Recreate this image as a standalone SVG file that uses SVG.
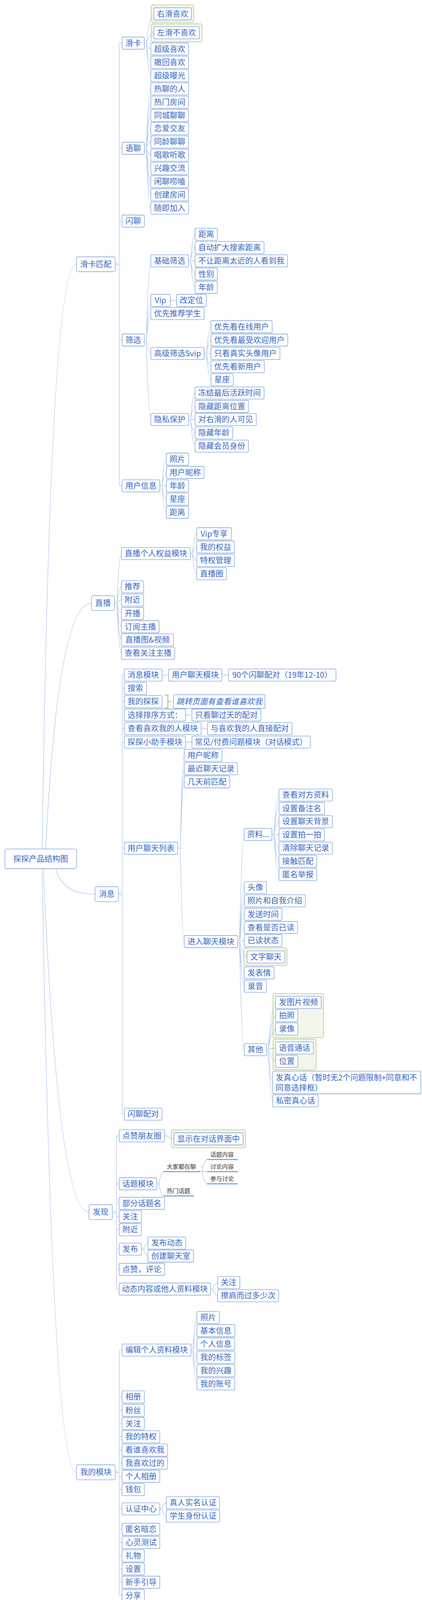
<svg xmlns="http://www.w3.org/2000/svg" width="1080" height="4112" viewBox="0 0 1080 4112">
<style>
.b{fill:#fff;stroke:#7c9dd8;stroke-width:1.3}
.t{font-family:"Noto Sans CJK SC","Noto Sans",sans-serif;font-size:20px;fill:#3568c4;text-anchor:middle}
.ts{font-family:"Noto Sans CJK SC","Noto Sans",sans-serif;font-size:20px;fill:#3568c4}
.c{fill:none;stroke:#a9c2ea;stroke-width:1.2}
.d{fill:#fff;stroke:#a9c2ea;stroke-width:1}
.bd{fill:#f3f6ea;stroke:#8fab4a;stroke-width:1.8;stroke-dasharray:2 2}
.u{font-family:"Noto Sans CJK SC","Noto Sans",sans-serif;font-size:15px;fill:#333}
.ul{stroke:#5d8fd8;stroke-width:2.2;fill:none}
.br{fill:none;stroke:#b3d17c;stroke-width:2.5}
</style>
<rect width="1080" height="4112" fill="#fff"/>
<g id="boundaries">
<rect class="bd" x="387" y="12.7" width="109" height="44.6" rx="5"/>
<rect class="bd" x="387" y="61" width="130" height="46" rx="5"/>
<rect class="bd" x="624.2" y="2426.7" width="110.3" height="45" rx="5"/>
<rect class="bd" x="698.5" y="2543.3" width="129.5" height="113.4" rx="5"/>
<rect class="bd" x="698.5" y="2660" width="110.3" height="79" rx="5"/>
<rect class="bd" x="438.4" y="2892.3" width="189.8" height="46" rx="5"/>
</g>
<g id="connectors">
<path class="c" d="M108 2173.3Q128 676.5 195.7 676.5M117 2173.3Q148 1544.2 234 1544.2M143 2224Q158 2289.2 243.2 2289.2M111 2224Q148 3103.3 227.6 3103.3M108 2224Q133 3769.2 195.7 3769.2"/>
<path class="c" d="M295 676.5H305M305 110.5V1243.8M305 110.5H312.4M305 379.5H312.4M305 566H312.4M305 870.5H312.4M305 1243.8H312.4"/>
<path class="c" d="M369.4 110.5H374.4M374.4 110.5Q384 35.5 393.7 35.5M374.4 110.5Q384 83.8 393.7 83.8M374.4 110.5Q380.2 125.5 386 125.5M374.4 110.5Q380.2 159.7 386 159.7M374.4 110.5Q380.2 193.8 386 193.8"/>
<path class="c" d="M369.4 379.5H374.4M374.4 379.5Q380.2 227.7 386 227.7M374.4 379.5Q380.2 261.6 386 261.6M374.4 379.5Q380.2 295.5 386 295.5M374.4 379.5Q380.2 329.4 386 329.4M374.4 379.5Q380.2 363.3 386 363.3M374.4 379.5Q380.2 397.2 386 397.2M374.4 379.5Q380.2 431.1 386 431.1M374.4 379.5Q380.2 465 386 465M374.4 379.5Q380.2 498.9 386 498.9M374.4 379.5Q380.2 532.8 386 532.8"/>
<path class="c" d="M369.4 870.5H374.4M374.4 870.5Q380.2 667.8 386 667.8M374.4 870.5Q380.2 769 386 769M374.4 870.5Q380.2 802.8 386 802.8M374.4 870.5Q380.2 904.8 386 904.8M374.4 870.5Q380.2 1073.8 386 1073.8"/>
<path class="c" d="M482.5 667.8H487.5M487.5 667.8Q493.4 599.8 499.3 599.8M487.5 667.8Q493.4 633.8 499.3 633.8M487.5 667.8H499.3M487.5 667.8Q493.4 701.5 499.3 701.5M487.5 667.8Q493.4 735.5 499.3 735.5"/>
<path class="c" d="M435.5 769H451.7"/>
<path class="c" d="M522.5 904.8H528.3M528.3 904.8Q534.2 836.5 540 836.5M528.3 904.8Q534.2 870.5 540 870.5M528.3 904.8H540M528.3 904.8Q534.2 938.8 540 938.8M528.3 904.8Q534.2 972.2 540 972.2"/>
<path class="c" d="M482.5 1073.8H487.5M487.5 1073.8Q493.4 1006.2 499.3 1006.2M487.5 1073.8Q493.4 1040.5 499.3 1040.5M487.5 1073.8H499.3M487.5 1073.8Q493.4 1108.2 499.3 1108.2M487.5 1073.8Q493.4 1142.2 499.3 1142.2"/>
<path class="c" d="M408.9 1243.8H414M414 1243.8Q419.8 1175.5 425.6 1175.5M414 1243.8Q419.8 1209.5 425.6 1209.5M414 1243.8H425.6M414 1243.8Q419.8 1277.8 425.6 1277.8M414 1243.8Q419.8 1311.5 425.6 1311.5"/>
<path class="c" d="M293.2 1544.2H299M299 1544.2Q304.8 1417.2 310.6 1417.2M299 1544.2Q304.8 1502.2 310.6 1502.2M299 1544.2Q304.8 1536.2 310.6 1536.2M299 1544.2Q304.8 1570.5 310.6 1570.5M299 1544.2Q304.8 1604.5 310.6 1604.5M299 1544.2Q304.8 1638.2 310.6 1638.2M299 1544.2Q304.8 1672.2 310.6 1672.2"/>
<path class="c" d="M487.1 1417.2H492M492 1417.2Q497.7 1366.5 503.4 1366.5M492 1417.2Q497.7 1400.5 503.4 1400.5M492 1417.2Q497.7 1434.8 503.4 1434.8M492 1417.2Q497.7 1468.8 503.4 1468.8"/>
<path class="c" d="M303.2 2289.2H312.5M312.5 1728.2V2852.2M312.5 1728.2H318.2M312.5 1762.2H318.2M312.5 1796.2H318.2M312.5 1830.5H318.2M312.5 1865.2H318.2M312.5 1899.8H318.2M312.5 2171.5H318.2M312.5 2852.2H318.2"/>
<path class="c" d="M414.7 1728.2H431.4M567.9 1728.2H584.7M474.7 1830.5H491.2M514.7 1865.2H530.7M474.7 1899.8H491.2"/>
<path class="br" d="M421 1779.5H429.7V1812.8H421M429.7 1796.2H438.5"/>
<path class="c" d="M454.7 2171.5H461.3M461.3 2171.5Q466.4 1933.8 471.5 1933.8M461.3 2171.5Q466.4 1967.8 471.5 1967.8M461.3 2171.5Q466.4 2001.5 471.5 2001.5M461.3 2171.5Q466.4 2410.5 471.5 2410.5"/>
<path class="c" d="M608 2410.5H612.8M612.8 2410.5Q618.9 2136.2 625 2136.2M612.8 2410.5Q618.9 2272.2 625 2272.2M612.8 2410.5Q618.9 2306.2 625 2306.2M612.8 2410.5Q618.9 2340.5 625 2340.5M612.8 2410.5Q618.9 2374.5 625 2374.5M612.8 2410.5Q618.9 2408.2 625 2408.2M612.8 2410.5Q622.5 2449.8 632.3 2449.8M612.8 2410.5Q618.9 2490.5 625 2490.5M612.8 2410.5Q618.9 2524.8 625 2524.8M612.8 2410.5Q618.9 2687.2 625 2687.2"/>
<path class="c" d="M696 2136.2H701M701 2136.2Q707.5 2035.3 714 2035.3M701 2136.2Q707.5 2069.5 714 2069.5M701 2136.2Q707.5 2103.3 714 2103.3M701 2136.2Q707.5 2137.2 714 2137.2M701 2136.2Q707.5 2171.2 714 2171.2M701 2136.2Q707.5 2204.8 714 2204.8M701 2136.2Q707.5 2238.8 714 2238.8"/>
<path class="c" d="M682 2687.2H686.5M686.5 2687.2Q696 2566 705.4 2566M686.5 2687.2Q696 2600.2 705.4 2600.2M686.5 2687.2Q696 2634.2 705.4 2634.2M686.5 2687.2Q696 2682.8 705.4 2682.8M686.5 2687.2Q696 2716.8 705.4 2716.8M686.5 2687.2Q692.2 2771.2 697.9 2771.2M686.5 2687.2Q692.2 2818.2 697.9 2818.2"/>
<path class="c" d="M287.4 3103.3H298M298 2907.8V3300M298 2907.8H304.8M298 3030.5H304.8M298 3080.5H304.8M298 3114.2H304.8M298 3148.2H304.8M298 3197.8H304.8M298 3249.5H304.8M298 3300H304.8"/>
<path class="c" d="M421.3 2907.8H426.2Q435.7 2915.2 445.3 2915.2"/>
<path class="c" d="M401.3 3030.5H406.4M406.4 3030.5Q412.2 2999.3 418 2999.3M406.4 3030.5Q412.2 3061.7 418 3061.7"/>
<path class="c" d="M512 2999.3H517M517 2999.3Q523.5 2968.3 530 2968.3M517 2999.3H530M517 2999.3Q523.5 3030.7 530 3030.7"/>
<path class="c" d="M361.8 3197.8H367M367 3197.8Q372.8 3182.2 378.6 3182.2M367 3197.8Q372.8 3215.5 378.6 3215.5"/>
<path class="c" d="M538.8 3300H544.6M544.6 3300Q550.7 3283.2 556.8 3283.2M544.6 3300Q550.7 3317.2 556.8 3317.2"/>
<path class="c" d="M295 3769.2H305M305 3456.2V4084.5M305 3456.2H312.4M305 3576.2H312.4M305 3610.5H312.4M305 3644.5H312.4M305 3678.2H312.4M305 3712.2H312.4M305 3745.5H312.4M305 3779.5H312.4M305 3813.3H312.4M305 3862.8H312.4M305 3915H312.4M305 3948.8H312.4M305 3982.8H312.4M305 4016.5H312.4M305 4050.5H312.4M305 4084.5H312.4"/>
<path class="c" d="M488.9 3456.2H493.5M493.5 3456.2Q498.8 3372.8 504 3372.8M493.5 3456.2Q498.8 3406.5 504 3406.5M493.5 3456.2Q498.8 3440.5 504 3440.5M493.5 3456.2Q498.8 3474.8 504 3474.8M493.5 3456.2Q498.8 3508.8 504 3508.8M493.5 3456.2Q498.8 3542.5 504 3542.5"/>
<path class="c" d="M408.9 3862.8H414M414 3862.8Q419.8 3847.2 425.6 3847.2M414 3862.8Q419.8 3881.2 425.6 3881.2"/>
<path class="ul" d="M418 2999.3H512M418 3061.7H496.4M530 2968.3H608.5M530 2999.3H608.5M530 3030.7H608.5"/>
<circle class="d" cx="300" cy="676.5" r="2.6"/>
<circle class="d" cx="374.4" cy="110.5" r="2.6"/>
<circle class="d" cx="374.4" cy="379.5" r="2.6"/>
<circle class="d" cx="374.4" cy="870.5" r="2.6"/>
<circle class="d" cx="487.5" cy="667.8" r="2.6"/>
<circle class="d" cx="440.7" cy="769" r="2.6"/>
<circle class="d" cx="528.3" cy="904.8" r="2.6"/>
<circle class="d" cx="487.5" cy="1073.8" r="2.6"/>
<circle class="d" cx="414" cy="1243.8" r="2.6"/>
<circle class="d" cx="299" cy="1544.2" r="2.6"/>
<circle class="d" cx="492" cy="1417.2" r="2.6"/>
<circle class="d" cx="308.5" cy="2289.2" r="2.6"/>
<circle class="d" cx="419.8" cy="1728.2" r="2.6"/>
<circle class="d" cx="573" cy="1728.2" r="2.6"/>
<circle class="d" cx="479.6" cy="1830.5" r="2.6"/>
<circle class="d" cx="519.5" cy="1865.2" r="2.6"/>
<circle class="d" cx="479.6" cy="1899.8" r="2.6"/>
<circle class="d" cx="461.3" cy="2171.5" r="2.6"/>
<circle class="d" cx="612.8" cy="2410.5" r="2.6"/>
<circle class="d" cx="701" cy="2136.2" r="2.6"/>
<circle class="d" cx="686.5" cy="2687.2" r="2.6"/>
<circle class="d" cx="293.2" cy="3103.3" r="2.6"/>
<circle class="d" cx="426.2" cy="2907.8" r="2.6"/>
<circle class="d" cx="406.4" cy="3030.5" r="2.6"/>
<circle class="d" cx="517" cy="2987" r="2.6"/>
<circle class="d" cx="367" cy="3197.8" r="2.6"/>
<circle class="d" cx="544.6" cy="3300" r="2.6"/>
<circle class="d" cx="300.2" cy="3769.2" r="2.6"/>
<circle class="d" cx="493.5" cy="3456.2" r="2.6"/>
<circle class="d" cx="414" cy="3862.8" r="2.6"/>
</g>
<g id="root"><rect class="b" x="12.5" y="2173.3" width="183.3" height="50.7" rx="5"/><text class="t" x="104.1" y="2205.7">探探产品结构图</text></g>
<g id="n-huakapipei"><rect class="b" x="195.7" y="657.5" width="99.3" height="38" rx="4"/><text class="t" x="245.3" y="683.5">滑卡匹配</text></g>
<g id="n-zhibo"><rect class="b" x="234" y="1525" width="59.2" height="38.3" rx="4"/><text class="t" x="263.6" y="1551.2">直播</text></g>
<g id="n-xiaoxi"><rect class="b" x="243.2" y="2270" width="60" height="38.3" rx="4"/><text class="t" x="273.2" y="2296.2">消息</text></g>
<g id="n-faxian"><rect class="b" x="227.6" y="3084" width="59.8" height="38.3" rx="4"/><text class="t" x="257.5" y="3110.2">发现</text></g>
<g id="n-wode"><rect class="b" x="195.7" y="3750" width="99.3" height="38.3" rx="4"/><text class="t" x="245.3" y="3776.2">我的模块</text></g>

<g id="n-huaka"><rect class="b" x="312.4" y="95" width="57" height="31" rx="3"/><text class="t" x="340.9" y="117.5">滑卡</text></g>
<g id="n-yuliao"><rect class="b" x="312.4" y="364" width="57" height="31" rx="3"/><text class="t" x="340.9" y="386.5">语聊</text></g>
<g id="n-shanliao"><rect class="b" x="312.4" y="550.5" width="57" height="31" rx="3"/><text class="t" x="340.9" y="573">闪聊</text></g>
<g id="n-shaixuan"><rect class="b" x="312.4" y="855" width="57" height="31" rx="3"/><text class="t" x="340.9" y="877.5">筛选</text></g>
<g id="n-yonghuxinxi"><rect class="b" x="312.4" y="1228.3" width="96.5" height="31" rx="3"/><text class="t" x="360.7" y="1250.8">用户信息</text></g>

<g id="n-youhua"><rect class="b" x="393.7" y="20" width="96" height="31" rx="3"/><text class="t" x="441.7" y="42.5">右滑喜欢</text></g>
<g id="n-zuohua"><rect class="b" x="393.7" y="68.3" width="116" height="31" rx="3"/><text class="t" x="451.7" y="90.8">左滑不喜欢</text></g>
<g id="n-chaojixihuan"><rect class="b" x="386" y="110" width="96.5" height="31" rx="3"/><text class="t" x="434.3" y="132.5">超级喜欢</text></g>
<g id="n-chehui"><rect class="b" x="386" y="144.2" width="96.5" height="31" rx="3"/><text class="t" x="434.3" y="166.7">撤回喜欢</text></g>
<g id="n-baoguang"><rect class="b" x="386" y="178.3" width="96.5" height="31" rx="3"/><text class="t" x="434.3" y="200.8">超级曝光</text></g>

<g id="n-yl1"><rect class="b" x="386" y="212.2" width="96.5" height="31" rx="3"/><text class="t" x="434.3" y="234.7">热聊的人</text></g>
<g id="n-yl2"><rect class="b" x="386" y="246.1" width="96.5" height="31" rx="3"/><text class="t" x="434.3" y="268.6">热门房间</text></g>
<g id="n-yl3"><rect class="b" x="386" y="280" width="96.5" height="31" rx="3"/><text class="t" x="434.3" y="302.5">同城聊聊</text></g>
<g id="n-yl4"><rect class="b" x="386" y="313.9" width="96.5" height="31" rx="3"/><text class="t" x="434.3" y="336.4">恋爱交友</text></g>
<g id="n-yl5"><rect class="b" x="386" y="347.8" width="96.5" height="31" rx="3"/><text class="t" x="434.3" y="370.3">同龄聊聊</text></g>
<g id="n-yl6"><rect class="b" x="386" y="381.7" width="96.5" height="31" rx="3"/><text class="t" x="434.3" y="404.2">唱歌听歌</text></g>
<g id="n-yl7"><rect class="b" x="386" y="415.6" width="96.5" height="31" rx="3"/><text class="t" x="434.3" y="438.1">兴趣交流</text></g>
<g id="n-yl8"><rect class="b" x="386" y="449.5" width="96.5" height="31" rx="3"/><text class="t" x="434.3" y="472">闲聊唠嗑</text></g>
<g id="n-yl9"><rect class="b" x="386" y="483.4" width="96.5" height="31" rx="3"/><text class="t" x="434.3" y="505.9">创建房间</text></g>
<g id="n-yl10"><rect class="b" x="386" y="517.3" width="96.5" height="31" rx="3"/><text class="t" x="434.3" y="539.8">随即加入</text></g>

<g id="n-jichu"><rect class="b" x="386" y="652.3" width="96.5" height="31" rx="3"/><text class="t" x="434.3" y="674.8">基础筛选</text></g>
<g id="n-vip"><rect class="b" x="386" y="753.5" width="49.5" height="31" rx="3"/><text class="t" x="410.8" y="776">Vip</text></g>
<g id="n-gaidingwei"><rect class="b" x="451.7" y="753.5" width="76.5" height="31" rx="3"/><text class="t" x="490" y="776">改定位</text></g>
<g id="n-xuesheng"><rect class="b" x="386" y="787.3" width="136.5" height="31" rx="3"/><text class="t" x="454.3" y="809.8">优先推荐学生</text></g>
<g id="n-svip"><rect class="b" x="386" y="889.3" width="136.5" height="31" rx="3"/><text class="t" x="454.3" y="911.8">高级筛选Svip</text></g>
<g id="n-yinsi"><rect class="b" x="386" y="1058.3" width="96.5" height="31" rx="3"/><text class="t" x="434.3" y="1080.8">隐私保护</text></g>

<g id="n-jc1"><rect class="b" x="499.3" y="584.3" width="57" height="31" rx="3"/><text class="t" x="527.8" y="606.8">距离</text></g>
<g id="n-jc2"><rect class="b" x="499.3" y="618.3" width="176.5" height="31" rx="3"/><text class="t" x="587.6" y="640.8">自动扩大搜索距离</text></g>
<g id="n-jc3"><rect class="b" x="499.3" y="652.3" width="236.5" height="31" rx="3"/><text class="t" x="617.6" y="674.8">不让距离太近的人看到我</text></g>
<g id="n-jc4"><rect class="b" x="499.3" y="686" width="57" height="31" rx="3"/><text class="t" x="527.8" y="708.5">性别</text></g>
<g id="n-jc5"><rect class="b" x="499.3" y="720" width="57" height="31" rx="3"/><text class="t" x="527.8" y="742.5">年龄</text></g>

<g id="n-sv1"><rect class="b" x="540" y="821" width="156.5" height="31" rx="3"/><text class="t" x="618.3" y="843.5">优先看在线用户</text></g>
<g id="n-sv2"><rect class="b" x="540" y="855" width="196.5" height="31" rx="3"/><text class="t" x="638.3" y="877.5">优先看最受欢迎用户</text></g>
<g id="n-sv3"><rect class="b" x="540" y="889.3" width="176.5" height="31" rx="3"/><text class="t" x="628.3" y="911.8">只看真实头像用户</text></g>
<g id="n-sv4"><rect class="b" x="540" y="923.3" width="136.5" height="31" rx="3"/><text class="t" x="608.3" y="945.8">优先看新用户</text></g>
<g id="n-sv5"><rect class="b" x="540" y="956.7" width="57" height="31" rx="3"/><text class="t" x="568.5" y="979.2">星座</text></g>

<g id="n-ys1"><rect class="b" x="499.3" y="990.7" width="176.5" height="31" rx="3"/><text class="t" x="587.6" y="1013.2">冻结最后活跃时间</text></g>
<g id="n-ys2"><rect class="b" x="499.3" y="1025" width="136.5" height="31" rx="3"/><text class="t" x="567.6" y="1047.5">隐藏距离位置</text></g>
<g id="n-ys3"><rect class="b" x="499.3" y="1058.3" width="156.5" height="31" rx="3"/><text class="t" x="577.6" y="1080.8">对右滑的人可见</text></g>
<g id="n-ys4"><rect class="b" x="499.3" y="1092.7" width="96.5" height="31" rx="3"/><text class="t" x="547.6" y="1115.2">隐藏年龄</text></g>
<g id="n-ys5"><rect class="b" x="499.3" y="1126.7" width="136.5" height="31" rx="3"/><text class="t" x="567.6" y="1149.2">隐藏会员身份</text></g>

<g id="n-ux1"><rect class="b" x="425.6" y="1160" width="57" height="31" rx="3"/><text class="t" x="454.1" y="1182.5">照片</text></g>
<g id="n-ux2"><rect class="b" x="425.6" y="1194" width="96.5" height="31" rx="3"/><text class="t" x="473.9" y="1216.5">用户昵称</text></g>
<g id="n-ux3"><rect class="b" x="425.6" y="1228.3" width="57" height="31" rx="3"/><text class="t" x="454.1" y="1250.8">年龄</text></g>
<g id="n-ux4"><rect class="b" x="425.6" y="1262.3" width="57" height="31" rx="3"/><text class="t" x="454.1" y="1284.8">星座</text></g>
<g id="n-ux5"><rect class="b" x="425.6" y="1296" width="57" height="31" rx="3"/><text class="t" x="454.1" y="1318.5">距离</text></g>

<g id="n-zb-quanyi"><rect class="b" x="310.6" y="1401.7" width="176.5" height="31" rx="3"/><text class="t" x="398.9" y="1424.2">直播个人权益模块</text></g>
<g id="n-zb1"><rect class="b" x="310.6" y="1486.7" width="57" height="31" rx="3"/><text class="t" x="339.1" y="1509.2">推荐</text></g>
<g id="n-zb2"><rect class="b" x="310.6" y="1520.7" width="57" height="31" rx="3"/><text class="t" x="339.1" y="1543.2">附近</text></g>
<g id="n-zb3"><rect class="b" x="310.6" y="1555" width="57" height="31" rx="3"/><text class="t" x="339.1" y="1577.5">开播</text></g>
<g id="n-zb4"><rect class="b" x="310.6" y="1589" width="96.5" height="31" rx="3"/><text class="t" x="358.9" y="1611.5">订阅主播</text></g>
<g id="n-zb5"><rect class="b" x="310.6" y="1622.7" width="133.6" height="31" rx="3"/><text class="t" x="377.4" y="1645.2">直播图&amp;视频</text></g>
<g id="n-zb6"><rect class="b" x="310.6" y="1656.7" width="136.5" height="31" rx="3"/><text class="t" x="378.9" y="1679.2">查看关注主播</text></g>
<g id="n-qy1"><rect class="b" x="503.4" y="1351" width="89" height="31" rx="3"/><text class="t" x="547.9" y="1373.5">Vip专享</text></g>
<g id="n-qy2"><rect class="b" x="503.4" y="1385" width="96.5" height="31" rx="3"/><text class="t" x="551.7" y="1407.5">我的权益</text></g>
<g id="n-qy3"><rect class="b" x="503.4" y="1419.3" width="96.5" height="31" rx="3"/><text class="t" x="551.7" y="1441.8">特权管理</text></g>
<g id="n-qy4"><rect class="b" x="503.4" y="1453.3" width="76.5" height="31" rx="3"/><text class="t" x="541.7" y="1475.8">直播圈</text></g>

<g id="n-xx1"><rect class="b" x="318.2" y="1712.7" width="96.5" height="31" rx="3"/><text class="t" x="366.5" y="1735.2">消息模块</text></g>
<g id="n-xx1a"><rect class="b" x="431.4" y="1712.7" width="136.5" height="31" rx="3"/><text class="t" x="499.7" y="1735.2">用户聊天模块</text></g>
<g id="n-xx1b"><rect class="b" x="584.7" y="1712.7" width="275.2" height="31" rx="3"/><text class="t" x="722.3" y="1735.2">90个闪聊配对（19年12-10）</text></g>
<g id="n-xx2"><rect class="b" x="318.2" y="1746.7" width="57" height="31" rx="3"/><text class="t" x="346.7" y="1769.2">搜索</text></g>
<g id="n-xx3"><rect class="b" x="318.2" y="1780.7" width="96.5" height="31" rx="3"/><text class="t" x="366.5" y="1803.2">我的探探</text></g>
<g id="n-xx3a"><rect class="b" x="444.2" y="1778.5" width="234" height="35" rx="3"/><text class="t" x="561.2" y="1803.2" font-style="italic">跳转页面有查看谁喜欢我</text></g>
<g id="n-xx4"><rect class="b" x="318.2" y="1815" width="156.5" height="31" rx="3"/><text class="t" x="396.5" y="1837.5">选择排序方式：</text></g>
<g id="n-xx4a"><rect class="b" x="491.2" y="1815" width="176.5" height="31" rx="3"/><text class="t" x="579.5" y="1837.5">只看聊过天的配对</text></g>
<g id="n-xx5"><rect class="b" x="318.2" y="1849.7" width="196.5" height="31" rx="3"/><text class="t" x="416.5" y="1872.2">查看喜欢我的人模块</text></g>
<g id="n-xx5a"><rect class="b" x="530.7" y="1849.7" width="216.5" height="31" rx="3"/><text class="t" x="639" y="1872.2">与喜欢我的人直接配对</text></g>
<g id="n-xx6"><rect class="b" x="318.2" y="1884.3" width="156.5" height="31" rx="3"/><text class="t" x="396.5" y="1906.8">探探小助手模块</text></g>
<g id="n-xx6a"><rect class="b" x="491.2" y="1884.3" width="303" height="31" rx="3"/><text class="t" x="642.7" y="1906.8">常见/付费问题模块（对话模式）</text></g>
<g id="n-xx7"><rect class="b" x="318.2" y="2156" width="136.5" height="31" rx="3"/><text class="t" x="386.5" y="2178.5">用户聊天列表</text></g>
<g id="n-xx8"><rect class="b" x="318.2" y="2836.7" width="96.5" height="31" rx="3"/><text class="t" x="366.5" y="2859.2">闪聊配对</text></g>

<g id="n-lb1"><rect class="b" x="471.5" y="1918.3" width="96.5" height="31" rx="3"/><text class="t" x="519.8" y="1940.8">用户昵称</text></g>
<g id="n-lb2"><rect class="b" x="471.5" y="1952.3" width="136.5" height="31" rx="3"/><text class="t" x="539.8" y="1974.8">最近聊天记录</text></g>
<g id="n-lb3"><rect class="b" x="471.5" y="1986" width="116.5" height="31" rx="3"/><text class="t" x="529.8" y="2008.5">几天前匹配</text></g>
<g id="n-lb4"><rect class="b" x="471.5" y="2395" width="136.5" height="31" rx="3"/><text class="t" x="539.8" y="2417.5">进入聊天模块</text></g>

<g id="n-jr1"><rect class="b" x="625" y="2120.7" width="71" height="31" rx="3"/><text class="t" x="660.5" y="2143.2">资料...</text></g>
<g id="n-jr2"><rect class="b" x="625" y="2256.7" width="57" height="31" rx="3"/><text class="t" x="653.5" y="2279.2">头像</text></g>
<g id="n-jr3"><rect class="b" x="625" y="2290.7" width="156.5" height="31" rx="3"/><text class="t" x="703.3" y="2313.2">照片和自我介绍</text></g>
<g id="n-jr4"><rect class="b" x="625" y="2325" width="96.5" height="31" rx="3"/><text class="t" x="673.3" y="2347.5">发送时间</text></g>
<g id="n-jr5"><rect class="b" x="625" y="2359" width="136.5" height="31" rx="3"/><text class="t" x="693.3" y="2381.5">查看是否已读</text></g>
<g id="n-jr6"><rect class="b" x="625" y="2392.7" width="96.5" height="31" rx="3"/><text class="t" x="673.3" y="2415.2">已读状态</text></g>
<g id="n-jr7"><rect class="b" x="632.3" y="2434.3" width="96.5" height="31" rx="3"/><text class="t" x="680.6" y="2456.8">文字聊天</text></g>
<g id="n-jr8"><rect class="b" x="625" y="2475" width="76.5" height="31" rx="3"/><text class="t" x="663.3" y="2497.5">发表情</text></g>
<g id="n-jr9"><rect class="b" x="625" y="2509.3" width="57" height="31" rx="3"/><text class="t" x="653.5" y="2531.8">录音</text></g>
<g id="n-jr10"><rect class="b" x="625" y="2671.7" width="57" height="31" rx="3"/><text class="t" x="653.5" y="2694.2">其他</text></g>

<g id="n-zl1"><rect class="b" x="714" y="2019.8" width="136.5" height="31" rx="3"/><text class="t" x="782.3" y="2042.3">查看对方资料</text></g>
<g id="n-zl2"><rect class="b" x="714" y="2054" width="116.5" height="31" rx="3"/><text class="t" x="772.3" y="2076.5">设置备注名</text></g>
<g id="n-zl3"><rect class="b" x="714" y="2087.8" width="136.5" height="31" rx="3"/><text class="t" x="782.3" y="2110.3">设置聊天背景</text></g>
<g id="n-zl4"><rect class="b" x="714" y="2121.7" width="116.5" height="31" rx="3"/><text class="t" x="772.3" y="2144.2">设置拍一拍</text></g>
<g id="n-zl5"><rect class="b" x="714" y="2155.7" width="136.5" height="31" rx="3"/><text class="t" x="782.3" y="2178.2">清除聊天记录</text></g>
<g id="n-zl6"><rect class="b" x="714" y="2189.3" width="96.5" height="31" rx="3"/><text class="t" x="762.3" y="2211.8">接触匹配</text></g>
<g id="n-zl7"><rect class="b" x="714" y="2223.3" width="96.5" height="31" rx="3"/><text class="t" x="762.3" y="2245.8">匿名举报</text></g>

<g id="n-qt1"><rect class="b" x="705.4" y="2550.7" width="116.5" height="31" rx="3"/><text class="t" x="763.7" y="2573.2">发图片视频</text></g>
<g id="n-qt2"><rect class="b" x="705.4" y="2584.7" width="57" height="31" rx="3"/><text class="t" x="733.9" y="2607.2">拍照</text></g>
<g id="n-qt3"><rect class="b" x="705.4" y="2618.7" width="57" height="31" rx="3"/><text class="t" x="733.9" y="2641.2">录像</text></g>
<g id="n-qt4"><rect class="b" x="705.4" y="2667.3" width="96.5" height="31" rx="3"/><text class="t" x="753.7" y="2689.8">语音通话</text></g>
<g id="n-qt5"><rect class="b" x="705.4" y="2701.3" width="57" height="31" rx="3"/><text class="t" x="733.9" y="2723.8">位置</text></g>
<g id="n-qt6"><rect class="b" x="697.9" y="2742.3" width="379" height="57.7" rx="3"/><text class="ts" x="705.5" y="2766">发真心话（暂时无2个问题限制+同意和不</text><text class="ts" x="705.5" y="2792">同意选择框）</text></g>
<g id="n-qt7"><rect class="b" x="697.9" y="2802.7" width="116.5" height="31" rx="3"/><text class="t" x="756.2" y="2825.2">私密真心话</text></g>

<g id="n-fx1"><rect class="b" x="304.8" y="2892.3" width="116.5" height="31" rx="3"/><text class="t" x="363.1" y="2914.8">点赞朋友圈</text></g>
<g id="n-fx1a"><rect class="b" x="445.3" y="2900" width="176.5" height="31" rx="3"/><text class="t" x="533.6" y="2922.5">显示在对话界面中</text></g>
<g id="n-fx2"><rect class="b" x="304.8" y="3015" width="96.5" height="31" rx="3"/><text class="t" x="353.1" y="3037.5">话题模块</text></g>
<g id="n-ht1"><text class="u" x="426.8" y="2992">大家都在聊</text></g>
<g id="n-ht1a"><text class="u" x="538.2" y="2961">话题内容</text></g>
<g id="n-ht1b"><text class="u" x="538.2" y="2992">讨论内容</text></g>
<g id="n-ht1c"><text class="u" x="538.2" y="3023">参与讨论</text></g>
<g id="n-ht2"><text class="u" x="426.8" y="3054">热门话题</text></g>
<g id="n-fx3"><rect class="b" x="304.8" y="3065" width="116.5" height="31" rx="3"/><text class="t" x="363.1" y="3087.5">部分话题名</text></g>
<g id="n-fx4"><rect class="b" x="304.8" y="3099" width="57" height="31" rx="3"/><text class="t" x="333.3" y="3121.5">关注</text></g>
<g id="n-fx5"><rect class="b" x="304.8" y="3132.7" width="57" height="31" rx="3"/><text class="t" x="333.3" y="3155.2">附近</text></g>
<g id="n-fx6"><rect class="b" x="304.8" y="3182.3" width="57" height="31" rx="3"/><text class="t" x="333.3" y="3204.8">发布</text></g>
<g id="n-fx6a"><rect class="b" x="378.6" y="3166.7" width="96.5" height="31" rx="3"/><text class="t" x="426.9" y="3189.2">发布动态</text></g>
<g id="n-fx6b"><rect class="b" x="378.6" y="3200" width="116.5" height="31" rx="3"/><text class="t" x="436.9" y="3222.5">创建聊天室</text></g>
<g id="n-fx7"><rect class="b" x="304.8" y="3234" width="116.5" height="31" rx="3"/><text class="t" x="363.1" y="3256.5">点赞，评论</text></g>
<g id="n-fx8"><rect class="b" x="304.8" y="3284.5" width="234" height="31" rx="3"/><text class="t" x="421.8" y="3307">动态内容或他人资料模块</text></g>
<g id="n-fx8a"><rect class="b" x="556.8" y="3267.7" width="57" height="31" rx="3"/><text class="t" x="585.3" y="3290.2">关注</text></g>
<g id="n-fx8b"><rect class="b" x="556.8" y="3301.7" width="156.5" height="31" rx="3"/><text class="t" x="635.1" y="3324.2">擦肩而过多少次</text></g>

<g id="n-wd1"><rect class="b" x="312.4" y="3440.7" width="176.5" height="31" rx="3"/><text class="t" x="400.7" y="3463.2">编辑个人资料模块</text></g>
<g id="n-bj1"><rect class="b" x="504" y="3357.3" width="57.5" height="31" rx="3"/><text class="t" x="532.8" y="3379.8">照片</text></g>
<g id="n-bj2"><rect class="b" x="504" y="3391" width="97" height="31" rx="3"/><text class="t" x="552.5" y="3413.5">基本信息</text></g>
<g id="n-bj3"><rect class="b" x="504" y="3425" width="97" height="31" rx="3"/><text class="t" x="552.5" y="3447.5">个人信息</text></g>
<g id="n-bj4"><rect class="b" x="504" y="3459.3" width="97" height="31" rx="3"/><text class="t" x="552.5" y="3481.8">我的标签</text></g>
<g id="n-bj5"><rect class="b" x="504" y="3493.3" width="97" height="31" rx="3"/><text class="t" x="552.5" y="3515.8">我的兴趣</text></g>
<g id="n-bj6"><rect class="b" x="504" y="3527.3" width="97" height="31" rx="3"/><text class="t" x="552.5" y="3549.8">我的账号</text></g>
<g id="n-wd2"><rect class="b" x="312.4" y="3560.7" width="57" height="31" rx="3"/><text class="t" x="340.9" y="3583.2">相册</text></g>
<g id="n-wd3"><rect class="b" x="312.4" y="3595" width="57" height="31" rx="3"/><text class="t" x="340.9" y="3617.5">粉丝</text></g>
<g id="n-wd4"><rect class="b" x="312.4" y="3629" width="57" height="31" rx="3"/><text class="t" x="340.9" y="3651.5">关注</text></g>
<g id="n-wd5"><rect class="b" x="312.4" y="3662.7" width="96.5" height="31" rx="3"/><text class="t" x="360.7" y="3685.2">我的特权</text></g>
<g id="n-wd6"><rect class="b" x="312.4" y="3696.7" width="116.5" height="31" rx="3"/><text class="t" x="370.7" y="3719.2">看谁喜欢我</text></g>
<g id="n-wd7"><rect class="b" x="312.4" y="3730" width="116.5" height="31" rx="3"/><text class="t" x="370.7" y="3752.5">我喜欢过的</text></g>
<g id="n-wd8"><rect class="b" x="312.4" y="3764" width="96.5" height="31" rx="3"/><text class="t" x="360.7" y="3786.5">个人相册</text></g>
<g id="n-wd9"><rect class="b" x="312.4" y="3797.8" width="57" height="31" rx="3"/><text class="t" x="340.9" y="3820.3">钱包</text></g>
<g id="n-wd10"><rect class="b" x="312.4" y="3847.3" width="96.5" height="31" rx="3"/><text class="t" x="360.7" y="3869.8">认证中心</text></g>
<g id="n-rz1"><rect class="b" x="425.6" y="3831.7" width="136.5" height="31" rx="3"/><text class="t" x="493.9" y="3854.2">真人实名认证</text></g>
<g id="n-rz2"><rect class="b" x="425.6" y="3865.7" width="136.5" height="31" rx="3"/><text class="t" x="493.9" y="3888.2">学生身份认证</text></g>
<g id="n-wd11"><rect class="b" x="312.4" y="3899.5" width="96.5" height="31" rx="3"/><text class="t" x="360.7" y="3922">匿名暗恋</text></g>
<g id="n-wd12"><rect class="b" x="312.4" y="3933.3" width="96.5" height="31" rx="3"/><text class="t" x="360.7" y="3955.8">心灵测试</text></g>
<g id="n-wd13"><rect class="b" x="312.4" y="3967.3" width="57" height="31" rx="3"/><text class="t" x="340.9" y="3989.8">礼物</text></g>
<g id="n-wd14"><rect class="b" x="312.4" y="4001" width="57" height="31" rx="3"/><text class="t" x="340.9" y="4023.5">设置</text></g>
<g id="n-wd15"><rect class="b" x="312.4" y="4035" width="96.5" height="31" rx="3"/><text class="t" x="360.7" y="4057.5">新手引导</text></g>
<g id="n-wd16"><rect class="b" x="312.4" y="4069" width="57" height="31" rx="3"/><text class="t" x="340.9" y="4091.5">分享</text></g>
</svg>
